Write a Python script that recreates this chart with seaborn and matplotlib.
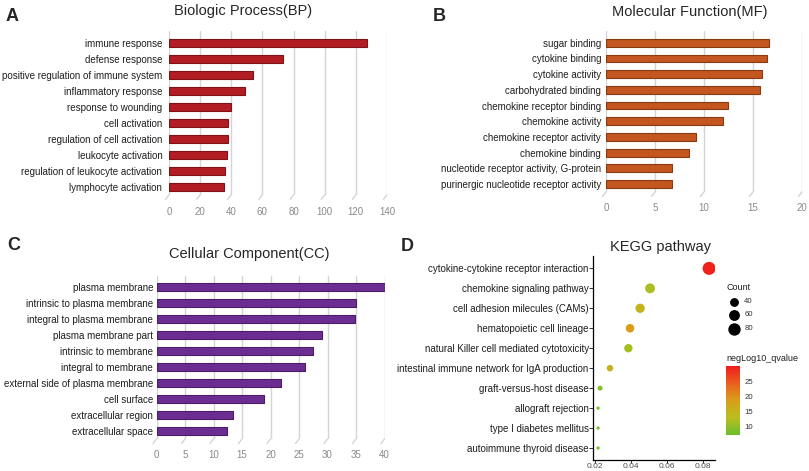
import numpy as np
import matplotlib
matplotlib.use("Agg")
import matplotlib.pyplot as plt
import matplotlib.transforms as mtransforms
import seaborn as sns
from matplotlib.colors import LinearSegmentedColormap, Normalize
from matplotlib.lines import Line2D

# ---- data ----
bp_terms = ["immune response", "defense response", "positive regulation of immune system",
            "inflammatory response", "response to wounding", "cell activation",
            "regulation of cell activation", "leukocyte activation",
            "regulation of leukocyte activation", "lymphocyte activation"]
bp_counts = [127, 73, 54, 49, 40, 38, 38, 37, 36, 35.5]

mf_terms = ["sugar binding", "cytokine binding", "cytokine activity", "carbohydrated binding",
            "chemokine receptor binding", "chemokine activity", "chemokine receptor activity",
            "chemokine binding", "nucleotide receptor activity, G-protein",
            "purinergic nucleotide receptor activity"]
mf_counts = [16.6, 16.4, 15.9, 15.7, 12.4, 11.9, 9.2, 8.5, 6.7, 6.7]

cc_terms = ["plasma membrane", "intrinsic to plasma membrane", "integral to plasma membrane",
            "plasma membrane part", "intrinsic to membrane", "integral to membrane",
            "external side of plasma membrane", "cell surface", "extracellular region",
            "extracellular space"]
cc_counts = [40, 35, 34.9, 29, 27.5, 26, 21.8, 18.9, 13.5, 12.3]

kegg_terms = ["cytokine-cytokine receptor interaction", "chemokine signaling pathway",
              "cell adhesion milecules (CAMs)", "hematopoietic cell lineage",
              "natural Killer cell mediated cytotoxicity",
              "intestinal immune network for IgA production", "graft-versus-host disease",
              "allograft rejection", "type I diabetes mellitus", "autoimmune thyroid disease"]
kegg_ratio = [0.0832, 0.0505, 0.0450, 0.0394, 0.0385, 0.0283, 0.0228, 0.0217, 0.0217, 0.0217]
kegg_count = [87, 52, 47, 41, 40, 29, 24, 22, 22, 22]
kegg_q = [29.5, 12, 15, 19, 11.5, 15.5, 9, 8, 8, 8]

W, H = 809, 471

sns.set_style("white")
plt.rcParams['font.family'] = ['Liberation Sans', 'DejaVu Sans']

fig = plt.figure(figsize=(W / 100, H / 100), dpi=100)


def px_axes(left, top, right, bottom):
    return fig.add_axes([left / W, 1 - bottom / H, (right - left) / W, (bottom - top) / H])


def bar_panel(ax, terms, counts, color, edge, xmax, step, ypad, xpad):
    sns.barplot(x=counts, y=terms, orient="h", color=color, saturation=1, width=0.5,
                edgecolor=edge, linewidth=0.8, ax=ax)
    ax.set_xlim(0, xmax)
    ax.set_ylim(9.5, -0.75)
    ticks = np.arange(0, xmax + 1, step)
    ax.set_xticks(ticks)
    ax.grid(axis="x", color="#d4d4d4", lw=1)
    ax.grid(axis="y", visible=False)
    ax.set_axisbelow(True)
    for s in ax.spines.values():
        s.set_visible(False)
    # little slanted "floor" stubs under each grid line (3D chart look)
    base = ax.get_xaxis_transform()
    shifted = mtransforms.offset_copy(base, fig=fig, x=-3.5, y=-4.5, units="dots")
    for t in ticks:
        p0 = base.transform((t, 0))
        p1 = shifted.transform((t, 0))
        inv = ax.transAxes.inverted()
        a0, a1 = inv.transform(p0), inv.transform(p1)
        ax.plot([a0[0], a1[0]], [a0[1], a1[1]], transform=ax.transAxes, color="#d4d4d4",
                lw=1, clip_on=False, zorder=0)
    ax.tick_params(axis="y", length=0, labelsize=7, labelcolor="#1e1e1e", pad=ypad)
    ax.tick_params(axis="x", length=0, labelsize=7, labelcolor="#8a8a8a", pad=xpad)
    ax.set_xlabel("")
    ax.set_ylabel("")


axA = px_axes(169, 31, 387, 194.8)
bar_panel(axA, bp_terms, bp_counts, "#B21D24", "#7d1218", 140, 20, 4.8, 9)

axB = px_axes(606, 31, 802, 191.9)
bar_panel(axB, mf_terms, mf_counts, "#C4561F", "#8a3a12", 20, 5, 3.6, 8)

axC = px_axes(156.5, 275.5, 384.5, 439)
bar_panel(axC, cc_terms, cc_counts, "#6B2D92", "#4a1d66", 40, 5, 2.5, 7.8)

# ---- KEGG dot plot ----
cmap = LinearSegmentedColormap.from_list(
    "kegg", ["#6BBE2D", "#B9BE1E", "#D89E1A", "#EA5F1F", "#EE1C1C"])
qnorm = Normalize(7.2, 30.2)

cmin, cmax = min(kegg_count), max(kegg_count)


def dot_area(c):
    # ggplot-like area scale: diameter grows with sqrt of rescaled count
    t = (c - cmin) / (cmax - cmin)
    d_px = 3.3 + 9.7 * np.sqrt(max(t, 0))
    return (d_px * 0.72) ** 2


size_map = {c: dot_area(c) for c in set(kegg_count)}

axD = px_axes(593.3, 256.4, 714.7, 460)
sns.scatterplot(x=kegg_ratio, y=kegg_terms, size=kegg_count, sizes=size_map,
                hue=kegg_q, palette=cmap, hue_norm=qnorm, linewidth=0,
                legend=False, ax=axD)
axD.set_xlim(0.01906, 0.0863)
axD.set_ylim(9.6, -0.6)
axD.set_xticks([0.02, 0.04, 0.06, 0.08])
axD.set_xticklabels(["0.02", "0.04", "0.06", "0.08"])
for side in ["top", "right"]:
    axD.spines[side].set_visible(False)
for side in ["left", "bottom"]:
    axD.spines[side].set_color("black")
    axD.spines[side].set_linewidth(0.9)
axD.tick_params(axis="y", length=2.8, width=0.7, color="#333333", labelsize=7,
                labelcolor="#1e1e1e", pad=0.5, left=True)
axD.tick_params(axis="x", length=2, width=0.7, color="#333333", labelsize=6,
                labelcolor="#4d4d4d", pad=0.5, bottom=True)
axD.set_xlabel("")
axD.set_ylabel("")

# size legend
fig.text(726.7 / W, 1 - 290 / H, "Count", fontsize=6.5, color="#1e1e1e", va="baseline")
for c, yy in zip([40, 60, 80], [301.7, 315, 329]):
    fig.add_artist(Line2D([734 / W], [1 - yy / H], marker="o", markersize=np.sqrt(dot_area(c)) * 0.88,
                          color="black", linestyle="none"))
    fig.text(744.3 / W, 1 - yy / H, str(c), fontsize=5.6, color="#333333", va="center")

# colour bar
fig.text(726 / W, 1 - 360.7 / H, "negLog10_qvalue", fontsize=6.5, color="#1e1e1e", va="baseline")
cax = px_axes(725.7, 366, 740, 435)
cb = fig.colorbar(matplotlib.cm.ScalarMappable(norm=qnorm, cmap=cmap), cax=cax)
cb.outline.set_visible(False)
cb.set_ticks([10, 15, 20, 25])
cax.tick_params(length=2.5, width=0.8, color="white", direction="in", labelsize=5.6,
                labelcolor="#333333", pad=3)

# ---- titles and panel letters ----
fig.text(243 / W, 1 - 15 / H, "Biologic Process(BP)", fontsize=10.5, ha="center", va="baseline")
fig.text(690 / W, 1 - 16 / H, "Molecular Function(MF)", fontsize=10.5, ha="center", va="baseline")
fig.text(249 / W, 1 - 258 / H, "Cellular Component(CC)", fontsize=10.5, ha="center", va="baseline")
fig.text(661 / W, 1 - 251 / H, "KEGG pathway", fontsize=10.5, ha="center", va="baseline")

for letter, x, y in [("A", 6, 20.7), ("B", 433, 20.7), ("C", 7, 250), ("D", 401, 251)]:
    fig.text(x / W, 1 - y / H, letter, fontsize=13, fontweight="bold", va="baseline")

fig.savefig("out.png", dpi=100)
